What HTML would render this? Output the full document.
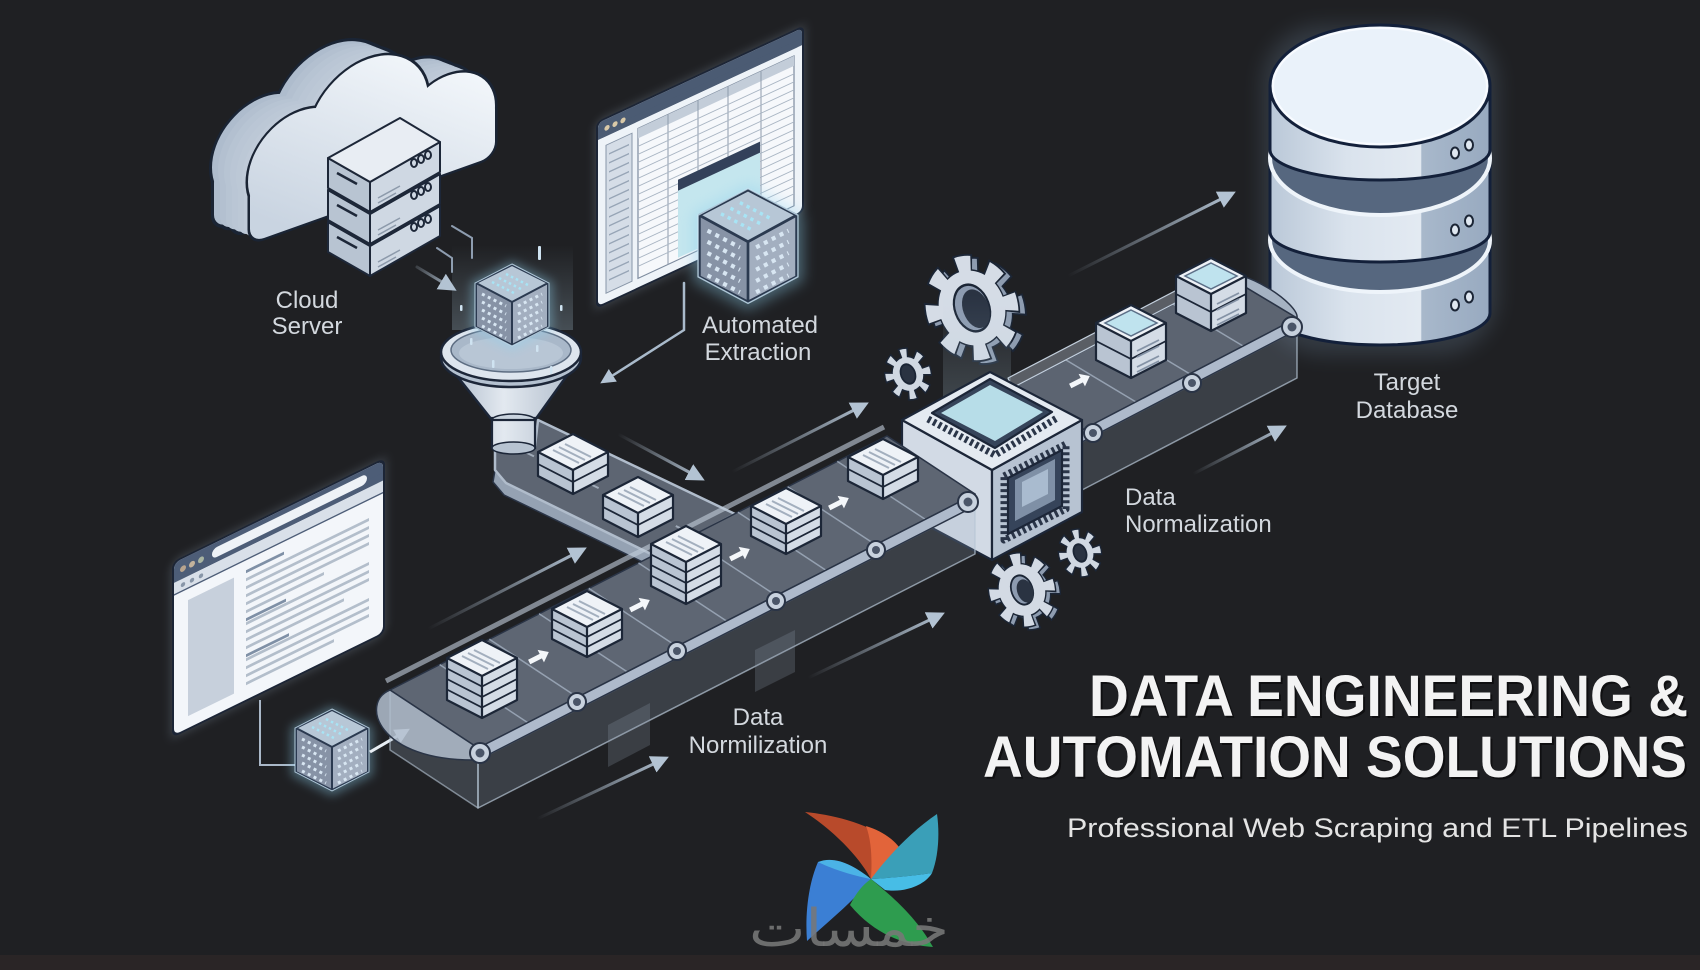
<!DOCTYPE html>
<html><head><meta charset="utf-8">
<style>
html,body{margin:0;padding:0;background:#1f2023;}
svg{display:block;}
</style></head>
<body>
<svg width="1700" height="970" viewBox="0 0 1700 970" xmlns="http://www.w3.org/2000/svg" xmlns:xlink="http://www.w3.org/1999/xlink">
<defs>
  <marker id="ah" viewBox="0 0 10 10" refX="7" refY="5" markerWidth="6" markerHeight="6" orient="auto" markerUnits="strokeWidth">
    <path d="M0,0 L10,5 L0,10 z" fill="#b3c3d3"/>
  </marker>
  <marker id="ahw" viewBox="0 0 10 10" refX="7" refY="5" markerWidth="5" markerHeight="5" orient="auto" markerUnits="strokeWidth">
    <path d="M0,0 L10,5 L0,10 z" fill="#e8eef4"/>
  </marker>
  <filter id="blur" x="-50%" y="-50%" width="200%" height="200%"><feGaussianBlur stdDeviation="5"/></filter>
  <filter id="blur2" x="-50%" y="-50%" width="200%" height="200%"><feGaussianBlur stdDeviation="10"/></filter>
  <linearGradient id="g1" gradientUnits="userSpaceOnUse" x1="1068" y1="276" x2="1234" y2="192"><stop offset="0" stop-color="#b3c3d3" stop-opacity="0"/><stop offset="1" stop-color="#b3c3d3"/></linearGradient>
  <linearGradient id="g2" gradientUnits="userSpaceOnUse" x1="1193" y1="474" x2="1285" y2="426"><stop offset="0" stop-color="#b3c3d3" stop-opacity="0"/><stop offset="1" stop-color="#b3c3d3"/></linearGradient>
  <linearGradient id="g3" gradientUnits="userSpaceOnUse" x1="808" y1="678" x2="943" y2="613"><stop offset="0" stop-color="#b3c3d3" stop-opacity="0"/><stop offset="1" stop-color="#b3c3d3"/></linearGradient>
  <linearGradient id="g4" gradientUnits="userSpaceOnUse" x1="732" y1="472" x2="867" y2="403"><stop offset="0" stop-color="#b3c3d3" stop-opacity="0"/><stop offset="1" stop-color="#b3c3d3"/></linearGradient>
  <linearGradient id="g5" gradientUnits="userSpaceOnUse" x1="618" y1="434" x2="703" y2="480"><stop offset="0" stop-color="#b3c3d3" stop-opacity="0"/><stop offset="1" stop-color="#b3c3d3"/></linearGradient>
  <linearGradient id="g6" gradientUnits="userSpaceOnUse" x1="428" y1="629" x2="585" y2="548"><stop offset="0" stop-color="#b3c3d3" stop-opacity="0"/><stop offset="1" stop-color="#b3c3d3"/></linearGradient>
  <linearGradient id="g7" gradientUnits="userSpaceOnUse" x1="537" y1="819" x2="667" y2="757"><stop offset="0" stop-color="#b3c3d3" stop-opacity="0"/><stop offset="1" stop-color="#b3c3d3"/></linearGradient>
  <linearGradient id="g8" gradientUnits="userSpaceOnUse" x1="417" y1="267" x2="455" y2="290"><stop offset="0" stop-color="#b3c3d3" stop-opacity="0.2"/><stop offset="1" stop-color="#b3c3d3"/></linearGradient>
  <linearGradient id="cloudF" gradientUnits="userSpaceOnUse" x1="150" y1="-150" x2="40" y2="0"><stop offset="0" stop-color="#f3f7fb"/><stop offset="1" stop-color="#c9d4e1"/></linearGradient>
  <linearGradient id="cone" gradientUnits="userSpaceOnUse" x1="441" y1="0" x2="581" y2="0"><stop offset="0" stop-color="#a7b5c6"/><stop offset="0.45" stop-color="#e3e9f0"/><stop offset="1" stop-color="#aab7c7"/></linearGradient>
  <linearGradient id="dbs" gradientUnits="userSpaceOnUse" x1="1270" y1="0" x2="1490" y2="0"><stop offset="0" stop-color="#bac8d8"/><stop offset="0.35" stop-color="#dae3ed"/><stop offset="0.685" stop-color="#e3eaf2"/><stop offset="0.69" stop-color="#a8b8cb"/><stop offset="1" stop-color="#98aac0"/></linearGradient>
  <linearGradient id="col" x1="0" y1="0" x2="0" y2="1"><stop offset="0" stop-color="#a9c4d4" stop-opacity="0"/><stop offset="1" stop-color="#a9c4d4" stop-opacity="0.28"/></linearGradient>

  <g id="sb24">
    <polygon points="-35,18 0,36 0,60 -35,42" fill="#b9c4d2"/>
    <polygon points="0,36 35,18 35,42 0,60" fill="#d4dce6"/>
    <polyline points="-35,30 0,48 35,30" fill="none" stroke="#1c2637" stroke-width="1.8"/>
    <polygon points="0,0 35,18 0,36 -35,18" fill="#eef2f7"/>
    <path d="M-20,16 L6,29 M-14,13 L12,26 M-8,10 L18,23" stroke="#a3afbe" stroke-width="2"/>
    <path d="M0,0 L35,18 L35,42 L0,60 L-35,42 L-35,18 Z M-35,18 L0,36 L35,18 M0,36 L0,60" fill="none" stroke="#1c2637" stroke-width="2.2" stroke-linejoin="round"/>
  </g>
  <g id="sb30">
    <polygon points="-35,18 0,36 0,66 -35,48" fill="#b9c4d2"/>
    <polygon points="0,36 35,18 35,48 0,66" fill="#d4dce6"/>
    <polyline points="-35,28 0,46 35,28" fill="none" stroke="#1c2637" stroke-width="1.8"/>
    <polyline points="-35,38 0,56 35,38" fill="none" stroke="#1c2637" stroke-width="1.8"/>
    <polygon points="0,0 35,18 0,36 -35,18" fill="#eef2f7"/>
    <path d="M-20,16 L6,29 M-14,13 L12,26 M-8,10 L18,23" stroke="#a3afbe" stroke-width="2"/>
    <path d="M0,0 L35,18 L35,48 L0,66 L-35,48 L-35,18 Z M-35,18 L0,36 L35,18 M0,36 L0,66" fill="none" stroke="#1c2637" stroke-width="2.2" stroke-linejoin="round"/>
  </g>
  <g id="sb42">
    <polygon points="-35,18 0,36 0,78 -35,60" fill="#b9c4d2"/>
    <polygon points="0,36 35,18 35,60 0,78" fill="#d4dce6"/>
    <polyline points="-35,28.5 0,46.5 35,28.5" fill="none" stroke="#1c2637" stroke-width="1.8"/>
    <polyline points="-35,39 0,57 35,39" fill="none" stroke="#1c2637" stroke-width="1.8"/>
    <polyline points="-35,49.5 0,67.5 35,49.5" fill="none" stroke="#1c2637" stroke-width="1.8"/>
    <polygon points="0,0 35,18 0,36 -35,18" fill="#eef2f7"/>
    <path d="M-20,16 L6,29 M-14,13 L12,26 M-8,10 L18,23" stroke="#a3afbe" stroke-width="2"/>
    <path d="M0,0 L35,18 L35,60 L0,78 L-35,60 L-35,18 Z M-35,18 L0,36 L35,18 M0,36 L0,78" fill="none" stroke="#1c2637" stroke-width="2.2" stroke-linejoin="round"/>
  </g>
  <g id="cb">
    <polygon points="-35,18 0,36 0,73 -35,55" fill="#b9c4d2"/>
    <polygon points="0,36 35,18 35,55 0,73" fill="#d4dce6"/>
    <polyline points="-35,36 0,54 35,36" fill="none" stroke="#1c2637" stroke-width="1.8"/>
    <path d="M6,46 L28,35 M6,52 L28,41 M6,62 L28,51 M6,67 L28,56" stroke="#8593a6" stroke-width="1.8"/>
    <polygon points="0,0 35,18 0,36 -35,18" fill="#eef2f7"/>
    <polygon points="0,5 26,18 0,31 -26,18" fill="#bfe3ee" stroke="#5d7088" stroke-width="1.5"/>
    <path d="M0,0 L35,18 L35,55 L0,73 L-35,55 L-35,18 Z M-35,18 L0,36 L35,18 M0,36 L0,73" fill="none" stroke="#1c2637" stroke-width="2.2" stroke-linejoin="round"/>
  </g>
  <g id="gc">
    <polygon points="0,-4 41,17 41,65 0,86 -41,65 -41,17" fill="#8fd0ee" opacity="0.4" filter="url(#blur)"/>
    <polygon points="-36,18 0,37 0,80 -36,62" fill="#8793a6"/>
    <polygon points="0,37 36,18 36,62 0,80" fill="#a3afc0"/>
    <polygon points="0,0 36,18 0,37 -36,18" fill="#b7c7d6"/>
    <path d="M-30,29 L-6,41 M-30,37 L-6,49 M-30,45 L-6,57 M-30,53 L-6,65 M-30,61 L-6,73" stroke="#d8e6f2" stroke-width="3" stroke-dasharray="3 3.5"/>
    <path d="M6,41 L30,29 M6,49 L30,37 M6,57 L30,45 M6,65 L30,53 M6,73 L30,61" stroke="#d8e6f2" stroke-width="3" stroke-dasharray="3 3.5"/>
    <path d="M-20,17 L4,29 M-13,13 L11,25 M-6,9 L18,21" stroke="#a8e4f5" stroke-width="2.5" stroke-dasharray="2.5 3"/>
    <path d="M0,0 L36,18 L36,62 L0,80 L-36,62 L-36,18 Z M-36,18 L0,37 L36,18 M0,37 L0,80" fill="none" stroke="#2b3a50" stroke-width="2" stroke-linejoin="round"/>
    <path d="M0,-1 L37,18 L37,62 L0,81 L-37,62 L-37,18 Z" fill="none" stroke="#cfe9f7" stroke-width="1" opacity="0.8"/>
  </g>
  <g id="cl">
    <circle cx="50" cy="-62" r="52"/>
    <circle cx="118" cy="-82" r="60"/>
    <circle cx="198" cy="-50" r="47"/>
    <rect x="0" y="-60" width="245" height="60" rx="14"/>
  </g>
  <polygon id="wa" points="-11,-2.5 2,-2.5 2,-7 11,0 2,7 2,2.5 -11,2.5" fill="#f4f7fa"/>
</defs>

<rect width="1700" height="970" fill="#1f2023"/>
<rect y="955" width="1700" height="15" fill="#2a2526"/>

<g stroke-width="3" fill="none" stroke-linecap="round">
  <line x1="1068" y1="276" x2="1231" y2="194" stroke="url(#g1)" marker-end="url(#ah)"/>
  <line x1="1193" y1="474" x2="1282" y2="428" stroke="url(#g2)" marker-end="url(#ah)"/>
  <line x1="808" y1="678" x2="940" y2="615" stroke="url(#g3)" marker-end="url(#ah)"/>
  <line x1="732" y1="472" x2="864" y2="405" stroke="url(#g4)" marker-end="url(#ah)"/>
  <line x1="618" y1="434" x2="700" y2="478" stroke="url(#g5)" marker-end="url(#ah)"/>
  <line x1="428" y1="629" x2="582" y2="550" stroke="url(#g6)" marker-end="url(#ah)"/>
  <line x1="537" y1="819" x2="664" y2="759" stroke="url(#g7)" marker-end="url(#ah)"/>
  <line x1="417" y1="267" x2="452" y2="288" stroke="url(#g8)" marker-end="url(#ah)"/>
  <polyline points="684,283 684,330 604,381" stroke="#a9bacb" stroke-width="2.5" marker-end="url(#ah)"/>
  <polyline points="452,226 472,238 472,258" stroke="#8e9db0" stroke-width="2"/>
  <polyline points="437,248 452,258 452,272" stroke="#8e9db0" stroke-width="2"/>
</g>

<!-- cloud -->
<g transform="translate(250,243) matrix(1,-0.356,0,1,0,0)">
  <use xlink:href="#cl" transform="translate(-36,-27)" fill="none" stroke="#1a2434" stroke-width="6"/>
  <use xlink:href="#cl" transform="translate(-30,-22.5)" fill="none" stroke="#1a2434" stroke-width="6"/>
  <use xlink:href="#cl" transform="translate(-18,-13.5)" fill="none" stroke="#1a2434" stroke-width="6"/>
  <use xlink:href="#cl" transform="translate(-36,-27)" fill="#aebccd"/>
  <use xlink:href="#cl" transform="translate(-30,-22.5)" fill="#b3c0d0"/>
  <use xlink:href="#cl" transform="translate(-24,-18)" fill="#b7c4d3"/>
  <use xlink:href="#cl" transform="translate(-18,-13.5)" fill="#bac6d5"/>
  <use xlink:href="#cl" transform="translate(-12,-9)" fill="#bcc8d6"/>
  <use xlink:href="#cl" transform="translate(-6,-4.5)" fill="#bfcad8"/>
  <use xlink:href="#cl" fill="none" stroke="#1a2434" stroke-width="5"/>
  <use xlink:href="#cl" fill="url(#cloudF)"/>
</g>

<!-- server stack -->
<g stroke="#1d2738" stroke-width="2" stroke-linejoin="round">
  <g transform="translate(0,64)">
    <polygon points="328,158 370,182 370,212 328,188" fill="#b8c4d2"/>
    <polygon points="370,182 440,142 440,172 370,212" fill="#cfd8e3"/>
    <polygon points="400,118 440,142 370,182 328,158" fill="#e8edf3"/>
    <line x1="337" y1="173" x2="357" y2="184" stroke-width="2.5"/>
    <path d="M378,198 L400,186 M378,203 L396,193" stroke="#8d9aab" stroke-width="1.5"/>
    <ellipse cx="414" cy="163" rx="3" ry="4" fill="none"/><ellipse cx="421" cy="159" rx="3" ry="4" fill="none"/><ellipse cx="428" cy="155" rx="3" ry="4" fill="none"/>
  </g>
  <g transform="translate(0,32)">
    <polygon points="328,158 370,182 370,212 328,188" fill="#b8c4d2"/>
    <polygon points="370,182 440,142 440,172 370,212" fill="#cfd8e3"/>
    <polygon points="400,118 440,142 370,182 328,158" fill="#e8edf3"/>
    <line x1="337" y1="173" x2="357" y2="184" stroke-width="2.5"/>
    <path d="M378,198 L400,186 M378,203 L396,193" stroke="#8d9aab" stroke-width="1.5"/>
    <ellipse cx="414" cy="163" rx="3" ry="4" fill="none"/><ellipse cx="421" cy="159" rx="3" ry="4" fill="none"/><ellipse cx="428" cy="155" rx="3" ry="4" fill="none"/>
  </g>
  <g>
    <polygon points="328,158 370,182 370,212 328,188" fill="#b8c4d2"/>
    <polygon points="370,182 440,142 440,172 370,212" fill="#cfd8e3"/>
    <polygon points="400,118 440,142 370,182 328,158" fill="#e8edf3"/>
    <line x1="337" y1="173" x2="357" y2="184" stroke-width="2.5"/>
    <path d="M378,198 L400,186 M378,203 L396,193" stroke="#8d9aab" stroke-width="1.5"/>
    <ellipse cx="414" cy="163" rx="3" ry="4" fill="none"/><ellipse cx="421" cy="159" rx="3" ry="4" fill="none"/><ellipse cx="428" cy="155" rx="3" ry="4" fill="none"/>
  </g>
</g>

<!-- spreadsheet browser -->
<g transform="translate(598,123) matrix(1,-0.465,0,1,0,0)">
  <rect x="-3" y="-3" width="210" height="189" rx="7" fill="#9fb3c8" opacity="0.25" filter="url(#blur)"/>
  <rect x="-2" y="-2" width="208" height="187" rx="6" fill="#1c2536"/>
  <rect x="0" y="0" width="204" height="183" rx="5" fill="#eef3f8"/>
  <rect x="0" y="0" width="204" height="17" rx="5" fill="#4b5b73"/>
  <rect x="0" y="10" width="204" height="7" fill="#4b5b73"/>
  <circle cx="9" cy="9" r="2.6" fill="#d9c9a8"/><circle cx="17" cy="9" r="2.6" fill="#d9c9a8"/><circle cx="25" cy="9" r="2.6" fill="#d9c9a8"/>
  <rect x="8" y="26" width="26" height="148" fill="#d5dde7" stroke="#8896a8" stroke-width="1"/>
  <path d="M11,36 H31 M11,45 H31 M11,54 H31 M11,63 H31 M11,72 H31 M11,81 H31 M11,90 H31 M11,99 H31 M11,108 H31 M11,117 H31 M11,126 H31 M11,135 H31 M11,144 H31 M11,153 H31 M11,162 H31" stroke="#97a5b6" stroke-width="1.5"/>
  <rect x="40" y="24" width="156" height="150" fill="#f6f8fb" stroke="#7d8b9e" stroke-width="1.2"/>
  <rect x="40" y="24" width="156" height="10" fill="#c3cdd9"/>
  <path d="M70,24 V174 M100,24 V174 M130,24 V174 M163,24 V174" stroke="#8d9aab" stroke-width="1"/>
  <path d="M40,42 H196 M40,50 H196 M40,58 H196 M40,66 H196 M40,74 H196 M40,82 H196 M40,90 H196 M40,98 H196 M40,106 H196 M40,114 H196 M40,122 H196 M40,130 H196 M40,138 H196 M40,146 H196 M40,154 H196 M40,162 H196" stroke="#a9b5c3" stroke-width="1"/>
  <rect x="80" y="94" width="82" height="78" fill="#c4e6ee"/>
  <rect x="80" y="94" width="82" height="11" fill="#33415a"/>
</g>
<use xlink:href="#gc" transform="translate(748,190) scale(1.35,1.4)"/>

<!-- funnel -->
<rect x="452" y="245" width="121" height="85" fill="url(#col)"/>
<polygon points="441,356 492,420 535,420 581,356" fill="url(#cone)" stroke="#1c2638" stroke-width="2.5" stroke-linejoin="round"/>
<rect x="492" y="418" width="43" height="30" fill="url(#cone)" stroke="#1c2638" stroke-width="2.2"/>
<ellipse cx="513.5" cy="420" rx="21.5" ry="6" fill="#c9d3de" stroke="#1c2638" stroke-width="1.5"/>
<ellipse cx="511" cy="358" rx="70" ry="29" fill="#b4c1d0" stroke="#1c2638" stroke-width="2.5"/>
<ellipse cx="511" cy="352" rx="70" ry="29" fill="#dde5ee" stroke="#1c2638" stroke-width="2.5"/>
<ellipse cx="511" cy="350" rx="60" ry="22" fill="#a9b8c9" stroke="#5d6d82" stroke-width="1.5"/>
<ellipse cx="511" cy="353" rx="52" ry="16" fill="#b8c6d5"/>
<use xlink:href="#gc" transform="translate(512,265)"/>
<g fill="#cfe3f1"><rect x="470" y="338" width="2.5" height="7" rx="1"/><rect x="492" y="360" width="2.5" height="8" rx="1"/><rect x="536" y="345" width="2.5" height="7" rx="1"/><rect x="550" y="366" width="2.5" height="8" rx="1"/><rect x="538" y="246" width="3" height="14" rx="1"/><rect x="460" y="305" width="2.5" height="6" rx="1"/><rect x="560" y="305" width="2.5" height="6" rx="1"/></g>

<!-- left browser -->
<g transform="translate(174,563) matrix(1,-0.49,0,1,0,0)">
  <rect x="-3" y="-3" width="215" height="178" rx="8" fill="#9fb3c8" opacity="0.25" filter="url(#blur)"/>
  <rect x="-2" y="-2" width="213" height="176" rx="7" fill="#1c2536"/>
  <rect x="0" y="0" width="209" height="172" rx="6" fill="#f3f6fa"/>
  <rect x="0" y="0" width="209" height="20" rx="6" fill="#4d5d77"/>
  <rect x="0" y="12" width="209" height="8" fill="#4d5d77"/>
  <rect x="0" y="20" width="209" height="12" fill="#d9e0e9"/>
  <line x1="0" y1="32" x2="209" y2="32" stroke="#4d5d77" stroke-width="1.5"/>
  <circle cx="9" cy="10" r="3" fill="#b8a48e"/><circle cx="18" cy="10" r="3" fill="#c4b39c"/><circle cx="27" cy="10" r="3" fill="#a9b5a2"/>
  <rect x="38" y="5" width="155" height="10" rx="5" fill="#eef2f7"/>
  <circle cx="9" cy="26" r="2.2" fill="#8896a8"/><circle cx="18" cy="26" r="2.2" fill="#8896a8"/><circle cx="27" cy="26" r="2.2" fill="#8896a8"/>
  <rect x="14" y="44" width="46" height="116" fill="#c7d0dc"/>
  <path d="M72,44 H110" stroke="#7f90a6" stroke-width="3"/>
  <path d="M72,52 H195 M72,60 H195 M72,68 H195 M72,76 H195 M72,84 H150 M72,96 H195 M72,104 H195 M72,112 H195 M72,120 H170 M72,132 H195 M72,140 H195 M72,148 H195 M72,156 H160" stroke="#b3becb" stroke-width="3"/>
  <path d="M72,92 H112 M72,128 H115" stroke="#7f90a6" stroke-width="3"/>
</g>
<polyline points="260,700 260,765 297,765" fill="none" stroke="#aab8c8" stroke-width="2"/>
<use xlink:href="#gc" transform="translate(332,710)"/>
<line x1="370" y1="752" x2="406" y2="731" stroke="#e8eef4" stroke-width="3" marker-end="url(#ahw)"/>

<!-- database -->
<g stroke-linejoin="round">
  <rect x="1262" y="25" width="236" height="330" rx="60" fill="#8fb0d0" opacity="0.18" filter="url(#blur2)"/>
  <path d="M1270,240 L1270,313 A110,32 0 0 0 1490,313 L1490,240 Z" fill="url(#dbs)" stroke="#13203a" stroke-width="3"/>
  <ellipse cx="1380" cy="240" rx="110" ry="52" fill="#56677f" stroke="#eef4fa" stroke-width="4"/>
  <path d="M1270,158 L1270,232 A110,30 0 0 0 1490,232 L1490,158 Z" fill="url(#dbs)" stroke="#13203a" stroke-width="3"/>
  <ellipse cx="1380" cy="158" rx="110" ry="57" fill="#56677f" stroke="#eef4fa" stroke-width="4"/>
  <path d="M1270,86 L1270,150 A110,30 0 0 0 1490,150 L1490,86 Z" fill="url(#dbs)" stroke="#13203a" stroke-width="3"/>
  <ellipse cx="1380" cy="86" rx="110" ry="61" fill="#eaf2fa" stroke="#13203a" stroke-width="3"/>
  <ellipse cx="1380" cy="86" rx="107" ry="58" fill="none" stroke="#f8fbff" stroke-width="2"/>
  <g fill="#dfe7f0" stroke="#1b2535" stroke-width="2">
    <ellipse cx="1455" cy="153" rx="4" ry="5.5"/><ellipse cx="1469" cy="145" rx="4" ry="5.5"/>
    <ellipse cx="1455" cy="230" rx="4" ry="5.5"/><ellipse cx="1469" cy="221" rx="4" ry="5.5"/>
    <ellipse cx="1455" cy="305" rx="4" ry="5.5"/><ellipse cx="1469" cy="297" rx="4" ry="5.5"/>
  </g>
</g>

<!-- belt C -->
<g stroke-linejoin="round">
  <polygon points="1082,442 1297,330 1297,378 1082,490" fill="#9aabc2" fill-opacity="0.22" stroke="#b7c6d6" stroke-opacity="0.7" stroke-width="1.5"/>
  <polygon points="1082,430 1297,318 1227,276 1012,388" fill="#5c6471" stroke="#2a3446" stroke-width="1.5"/>
  <path d="M1136,402 L1066,360 M1190,374 L1120,332 M1243,346 L1173,304" stroke="#95a1b1" stroke-width="1.5"/>
  <polygon points="1008,378 1223,266 1227,276 1012,388" fill="#c9d5e2" fill-opacity="0.35" stroke="#c3cfdc" stroke-width="1.2"/>
  <path d="M1227,276 A41,12 31 0 1 1297,318 Z" fill="#a5b2c2" stroke="#2a3446" stroke-width="1.5"/>
  <polygon points="1082,430 1297,318 1297,330 1082,442" fill="#aebacb" stroke="#2a3446" stroke-width="1.5"/>
  <g fill="#c8d2de" stroke="#2a3446" stroke-width="2">
    <circle cx="1093" cy="433" r="9"/><circle cx="1192" cy="383" r="9"/><circle cx="1292" cy="327" r="10"/>
  </g>
  <g fill="#4a5568"><circle cx="1093" cy="433" r="4"/><circle cx="1192" cy="383" r="4"/><circle cx="1292" cy="327" r="4.5"/></g>
</g>
<use xlink:href="#cb" transform="translate(1131,305)"/>
<use xlink:href="#cb" transform="translate(1211,258)"/>
<g transform="translate(1080,381) rotate(-27)"><use xlink:href="#wa"/></g>

<!-- big gears behind processor -->
<g transform="translate(972,308) rotate(-20) scale(0.86,1)">
  <g transform="translate(6,5)">
    <circle r="39.5" fill="#1b2535"/>
    <circle r="45" fill="none" stroke="#1b2535" stroke-width="20" stroke-dasharray="19.5 15.84" stroke-dashoffset="1.75"/>
    <circle r="45" fill="none" stroke="#8e9cb0" stroke-width="16" stroke-dasharray="16 19.34"/>
    <circle r="38" fill="#8e9cb0"/>
  </g>
  <circle r="39.5" fill="#1b2535"/>
  <circle r="45" fill="none" stroke="#1b2535" stroke-width="20" stroke-dasharray="19.5 15.84" stroke-dashoffset="1.75"/>
  <circle r="45" fill="none" stroke="#d5dce6" stroke-width="16" stroke-dasharray="16 19.34"/>
  <circle r="38" fill="#d5dce6"/>
  <ellipse rx="20" ry="24" fill="#8d9bb0" stroke="#1b2535" stroke-width="2.5"/>
  <ellipse cx="4" cy="2" rx="15" ry="20" fill="#2a3342"/>
</g>
<g transform="translate(908,374) rotate(-20) scale(0.88,1)">
  <circle r="18.5" fill="#1b2535"/>
  <circle r="21" fill="none" stroke="#1b2535" stroke-width="12" stroke-dasharray="9.5 7" stroke-dashoffset="1.5"/>
  <circle r="21" fill="none" stroke="#d0d8e2" stroke-width="9" stroke-dasharray="6.5 10"/>
  <circle r="17" fill="#d0d8e2"/>
  <ellipse rx="8" ry="10" fill="#2a3342" stroke="#1b2535" stroke-width="2"/>
</g>

<!-- processor -->
<rect x="943" y="295" width="68" height="125" fill="url(#col)"/>
<g stroke="#1c2638" stroke-width="2.2" stroke-linejoin="round">
  <polygon points="902,420 992,470 992,560 902,512" fill="#d2dae5"/>
  <polygon points="992,470 1082,420 1082,512 992,560" fill="#b7c3d2"/>
  <polygon points="990,372 1082,420 992,470 902,420" fill="#e4eaf1"/>
  <polyline points="928,419 995,455 1057,418" fill="none" stroke="#2a3548" stroke-width="7" stroke-dasharray="3 3"/>
  <polygon points="932,413 990,379 1052,412 995,448" fill="#36445a"/>
  <polygon points="941,413 990,385 1043,412 995,441" fill="#b7dde8" stroke="none"/>
  <polygon points="1004,476 1066,444 1066,509 1004,540" fill="none" stroke="#2a3548" stroke-width="7" stroke-dasharray="3 3"/>
  <polygon points="1008,478 1062,450 1062,506 1008,534" fill="#36445a"/>
  <polygon points="1015,480 1055,459 1055,500 1015,521" fill="#7f90a6" stroke="none"/>
  <polygon points="1022,482 1048,469 1048,494 1022,507" fill="#a9bbcf" stroke="none"/>
</g>

<!-- belt A -->
<g stroke-linejoin="round">
  <polygon points="495,470 506,483 655,556 655,568 504,495 493,482" fill="#95a2b3" stroke="#2a3446" stroke-width="1.5"/>
  <polygon points="495,446 495,470 506,483 655,556 735,514 538,420 535,446" fill="#5d6572" stroke="#b0bccb" stroke-width="2.5"/>
  <line x1="525" y1="452" x2="690" y2="533" stroke="#a0abb9" stroke-width="2" stroke-dasharray="10 14"/>
</g>
<rect x="492" y="420" width="43" height="28" fill="url(#cone)" stroke="#1c2638" stroke-width="2.2"/>
<ellipse cx="513.5" cy="448" rx="21.5" ry="6" fill="#b7c3d1" stroke="#1c2638" stroke-width="1.5"/>

<!-- belt B -->
<g stroke-linejoin="round">
  <polygon points="390,690 478,748 478,808 390,750" fill="#9aabc2" fill-opacity="0.24" stroke="#b7c6d6" stroke-opacity="0.6" stroke-width="1.5"/>
  <polygon points="478,760 975,506 975,554 478,808" fill="#9aabc2" fill-opacity="0.22" stroke="#b7c6d6" stroke-opacity="0.7" stroke-width="1.5"/>
  <polygon points="608,725 650,703 650,745 608,767" fill="#8a96a6" opacity="0.25"/>
  <polygon points="755,650 795,630 795,672 755,692" fill="#8a96a6" opacity="0.25"/>
  <polygon points="478,748 975,494 887,436 390,690" fill="#5e6673" stroke="#2a3446" stroke-width="1.5"/>
  <path d="M527.7,722.6 L439.7,664.6 M577.4,697.2 L489.4,639.2 M627.1,671.8 L539.1,613.8 M676.8,646.4 L588.8,588.4 M726.5,621 L638.5,563 M776.2,595.6 L688.2,537.6 M825.9,570.2 L737.9,512.2 M875.6,544.8 L787.6,486.8 M925.3,519.4 L837.3,461.4" stroke="#95a1b1" stroke-width="1.5"/>
  <line x1="386" y1="681" x2="884" y2="427" stroke="#c3cfdc" stroke-width="5" stroke-opacity="0.6"/>
  <path d="M390,690 C360,702 376,762 478,760 L478,748 Z" fill="#b3bfcf" fill-opacity="0.85" stroke="#2a3446" stroke-width="1.5"/>
  <polygon points="478,748 975,494 975,506 478,760" fill="#aebacb" stroke="#2a3446" stroke-width="1.5"/>
  <g fill="#c8d2de" stroke="#2a3446" stroke-width="2">
    <circle cx="480" cy="753" r="10"/><circle cx="577" cy="702" r="9"/><circle cx="677" cy="651" r="9"/><circle cx="776" cy="601" r="9"/><circle cx="876" cy="550" r="9"/><circle cx="968" cy="502" r="10"/>
  </g>
  <g fill="#4a5568"><circle cx="480" cy="753" r="4.5"/><circle cx="577" cy="702" r="4"/><circle cx="677" cy="651" r="4"/><circle cx="776" cy="601" r="4"/><circle cx="876" cy="550" r="4"/><circle cx="968" cy="502" r="4.5"/></g>
</g>

<use xlink:href="#sb24" transform="translate(573,434)"/>
<use xlink:href="#sb24" transform="translate(638,477)"/>
<use xlink:href="#sb24" transform="translate(883,439)"/>
<use xlink:href="#sb30" transform="translate(786,488)"/>
<use xlink:href="#sb42" transform="translate(686,526)"/>
<use xlink:href="#sb30" transform="translate(587,591)"/>
<use xlink:href="#sb42" transform="translate(482,640)"/>
<g transform="translate(539,657) rotate(-27)"><use xlink:href="#wa"/></g>
<g transform="translate(640,605) rotate(-27)"><use xlink:href="#wa"/></g>
<g transform="translate(740,554) rotate(-27)"><use xlink:href="#wa"/></g>
<g transform="translate(839,503) rotate(-27)"><use xlink:href="#wa"/></g>

<!-- lower gears -->
<g transform="translate(1022,590) rotate(-20) scale(0.88,1)">
  <g transform="translate(4,4)">
    <circle r="27.5" fill="#1b2535"/>
    <circle r="31" fill="none" stroke="#1b2535" stroke-width="15" stroke-dasharray="13 11.35" stroke-dashoffset="1.5"/>
    <circle r="31" fill="none" stroke="#8e9cb0" stroke-width="12" stroke-dasharray="10 14.35"/>
    <circle r="26" fill="#8e9cb0"/>
  </g>
  <circle r="27.5" fill="#1b2535"/>
  <circle r="31" fill="none" stroke="#1b2535" stroke-width="15" stroke-dasharray="13 11.35" stroke-dashoffset="1.5"/>
  <circle r="31" fill="none" stroke="#d3dae4" stroke-width="12" stroke-dasharray="10 14.35"/>
  <circle r="26" fill="#d3dae4"/>
  <ellipse rx="12" ry="15" fill="#8d9bb0" stroke="#1b2535" stroke-width="2"/>
  <ellipse cx="3" cy="2" rx="9" ry="12" fill="#2a3342"/>
</g>
<g transform="translate(1080,553) rotate(-20) scale(0.88,1)">
  <circle r="16.5" fill="#1b2535"/>
  <circle r="19" fill="none" stroke="#1b2535" stroke-width="12" stroke-dasharray="9 5.9" stroke-dashoffset="1.5"/>
  <circle r="19" fill="none" stroke="#d0d8e2" stroke-width="9" stroke-dasharray="6 8.9"/>
  <circle r="15" fill="#d0d8e2"/>
  <ellipse rx="7" ry="9" fill="#2a3342" stroke="#1b2535" stroke-width="2"/>
</g>

<!-- labels -->
<g font-family="'Liberation Sans', sans-serif" font-size="24" fill="#d3d8de">
  <text x="307" y="308" text-anchor="middle">Cloud</text>
  <text x="307" y="334" text-anchor="middle">Server</text>
  <text x="760" y="333" text-anchor="middle">Automated</text>
  <text x="758" y="360" text-anchor="middle">Extraction</text>
  <text x="1407" y="390" text-anchor="middle">Target</text>
  <text x="1407" y="418" text-anchor="middle">Database</text>
  <text x="1125" y="505">Data</text>
  <text x="1125" y="532">Normalization</text>
  <text x="758" y="725" text-anchor="middle">Data</text>
  <text x="758" y="753" text-anchor="middle">Normilization</text>
</g>

<!-- title -->
<g font-family="'Liberation Sans', sans-serif">
  <text x="1091" y="718" font-weight="700" font-size="58" fill="#000" opacity="0.5" textLength="599" lengthAdjust="spacingAndGlyphs">DATA ENGINEERING &amp;</text>
  <text x="985" y="779" font-weight="700" font-size="58" fill="#000" opacity="0.5" textLength="704" lengthAdjust="spacingAndGlyphs">AUTOMATION SOLUTIONS</text>
  <text x="1089" y="716" font-weight="700" font-size="58" fill="#f3f3f3" textLength="599" lengthAdjust="spacingAndGlyphs">DATA ENGINEERING &amp;</text>
  <text x="983" y="777" font-weight="700" font-size="58" fill="#f3f3f3" textLength="704" lengthAdjust="spacingAndGlyphs">AUTOMATION SOLUTIONS</text>
  <text x="1067" y="837" font-size="27" fill="#e4e4e4" textLength="621" lengthAdjust="spacingAndGlyphs">Professional Web Scraping and ETL Pipelines</text>
</g>

<!-- logo -->
<g>
  <path d="M805,812 C835,815 880,825 903,853 C895,862 880,872 871,879 C862,862 840,835 805,812 Z" fill="#b84a2b"/>
  <path d="M866,826 C885,832 897,842 903,853 C895,862 880,872 871,879 C872,862 872,842 866,826 Z" fill="#e2643a"/>
  <path d="M937,814 C940,835 938,858 932,873 C912,876 890,878 871,879 C885,860 910,832 937,814 Z" fill="#3a9fb8"/>
  <path d="M871,879 C890,878 912,876 932,873 C925,885 905,893 885,890 Z" fill="#47bde6"/>
  <path d="M871,879 C850,870 830,860 818,862 C808,885 805,915 807,941 C830,920 855,900 871,879 Z" fill="#3b7fd4"/>
  <path d="M871,879 C855,866 835,855 818,862 C830,868 850,875 871,879 Z" fill="#4bb3e6"/>
  <path d="M871,879 C890,895 915,915 933,947 C905,945 875,935 850,905 C855,895 862,885 871,879 Z" fill="#2e9c4f"/>
  <text x="849" y="946" font-family="'DejaVu Sans', sans-serif" font-size="52" fill="#787878" fill-opacity="0.88" text-anchor="middle" textLength="200" lengthAdjust="spacingAndGlyphs">خمسات</text>
</g>
</svg>
</body>
</html>
